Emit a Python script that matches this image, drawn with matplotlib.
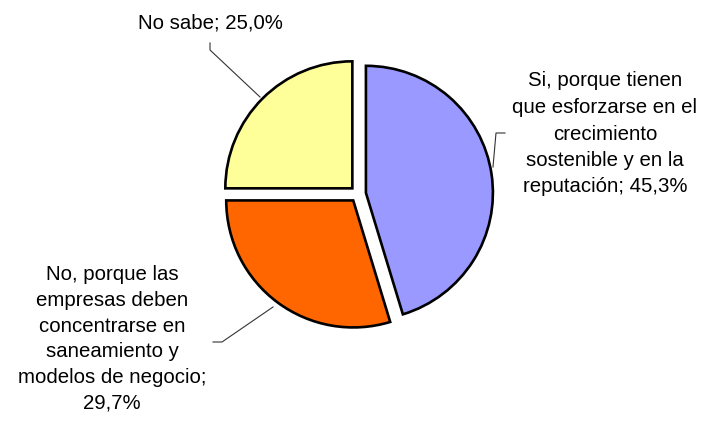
import matplotlib
matplotlib.use("Agg")
import matplotlib.pyplot as plt

# Data
categories = [
    "Si, porque tienen\nque esforzarse en el\ncrecimiento\nsostenible y en la\nreputación",
    "No, porque las\nempresas deben\nconcentrarse en\nsaneamiento y\nmodelos de negocio",
    "No sabe",
]
values = [45.3, 29.7, 25.0]
value_labels = ["45,3%", "29,7%", "25,0%"]

colors = ["#9999FF", "#FF6600", "#FFFF99"]

W, H = 706, 421
fig = plt.figure(figsize=(W / 100, H / 100), dpi=100)
ax = fig.add_axes([0, 0, 1, 1])

cx, cy, r = 358, H - 194, 127
explode_px = 8
ax.pie(values, colors=colors, startangle=90, counterclock=False,
       center=(cx, cy), radius=r, explode=[explode_px] * len(values),
       wedgeprops=dict(edgecolor="black", linewidth=1.9))
ax.set_xlim(0, W)
ax.set_ylim(0, H)
ax.set_aspect("equal")
ax.axis("off")

font = dict(family="Liberation Sans", fontsize=14.7, color="black",
            ha="center", va="center")

# Labels
blue_txt = categories[0] + "; " + value_labels[0]
ax.text(605, H - 134, blue_txt, linespacing=1.5, **font)
orange_txt = categories[1] + ";\n" + value_labels[1]
ax.text(112, H - 339, orange_txt, linespacing=1.44, **font)
yellow_txt = categories[2] + "; " + value_labels[2]
ax.text(210, H - 23, yellow_txt, **font)

# Leader lines
lw = 0.8
ax.plot([505, 496, 493], [H - 133, H - 133, H - 167], color="#333333", lw=lw)
ax.plot([213, 222, 273], [H - 342, H - 342, H - 307], color="#333333", lw=lw)
ax.plot([210, 210, 260], [H - 43, H - 50, H - 97], color="#333333", lw=lw)

fig.savefig("out.png", dpi=100, facecolor="white")
